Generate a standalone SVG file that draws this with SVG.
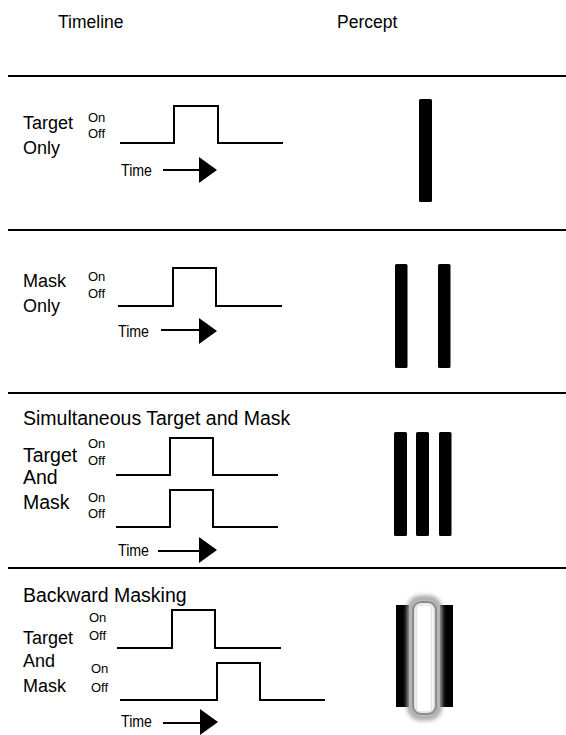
<svg xmlns="http://www.w3.org/2000/svg" width="566" height="735" viewBox="0 0 566 735">
<style>
  text { font-family: "Liberation Sans", Arial, sans-serif; fill: #000; }
  .hd { font-size: 17.5px; }
  .lb { font-size: 18px; }
  .lb3 { font-size: 19.5px; }
  .oo { font-size: 13px; }
  .tm { font-size: 16px; }
  .sep { stroke: #000; stroke-width: 2.2; fill: none; }
  .wave { stroke: #000; stroke-width: 2; fill: none; }
  .axis { stroke: #000; stroke-width: 2; fill: none; }
  .bar { fill: #000; }
</style>
<defs>
  <path id="tri" d="M0,-13 L18,0 L0,13 Z" fill="#000"/>
  <filter id="glow" x="-50%" y="-20%" width="200%" height="140%">
    <feGaussianBlur stdDeviation="2.2"/>
  </filter>
</defs>
<rect width="566" height="735" fill="#fff"/>

<g id="header">
  <text class="hd" x="58" y="28">Timeline</text>
  <text class="hd" x="337" y="28">Percept</text>
</g>

<g id="separators">
  <line class="sep" x1="8" y1="76" x2="566" y2="76"/>
  <line class="sep" x1="8" y1="230" x2="566" y2="230"/>
  <line class="sep" x1="8" y1="393" x2="566" y2="393"/>
  <line class="sep" x1="8" y1="568" x2="566" y2="568"/>
</g>

<g id="row-target-only">
  <text class="lb" x="23" y="129">Target</text>
  <text class="lb" x="23" y="154">Only</text>
  <text class="oo" x="88" y="122">On</text>
  <text class="oo" x="88" y="138">Off</text>
  <path class="wave" d="M120 143 H174 V106 H218 V143 H283"/>
  <text class="tm" x="121" y="176" textLength="31" lengthAdjust="spacingAndGlyphs">Time</text>
  <line class="axis" x1="163" y1="170" x2="200" y2="170"/>
  <use href="#tri" x="199" y="170"/>
  <rect class="bar" x="419" y="99" width="13" height="103" rx="1.5"/>
</g>

<g id="row-mask-only">
  <text class="lb" x="23" y="287">Mask</text>
  <text class="lb" x="23" y="312">Only</text>
  <text class="oo" x="88" y="281">On</text>
  <text class="oo" x="88" y="298">Off</text>
  <path class="wave" d="M118 306 H173 V268 H216 V306 H282"/>
  <text class="tm" x="118" y="337" textLength="31" lengthAdjust="spacingAndGlyphs">Time</text>
  <line class="axis" x1="161" y1="330" x2="200" y2="330"/>
  <use href="#tri" x="199" y="331"/>
  <rect class="bar" x="395" y="264" width="12.5" height="104" rx="1.5"/>
  <rect class="bar" x="438" y="264" width="12.5" height="104" rx="1.5"/>
</g>

<g id="row-simultaneous">
  <text class="lb3" x="23" y="425">Simultaneous Target and Mask</text>
  <text class="lb3" x="23" y="462">Target</text>
  <text class="lb3" x="23" y="484">And</text>
  <text class="lb3" x="23" y="509">Mask</text>
  <text class="oo" x="88" y="448">On</text>
  <text class="oo" x="88" y="465">Off</text>
  <text class="oo" x="88" y="502">On</text>
  <text class="oo" x="88" y="518">Off</text>
  <path class="wave" d="M116 475 H170 V438 H213 V475 H278"/>
  <path class="wave" d="M116 527 H170 V490 H213 V527 H278"/>
  <text class="tm" x="118" y="556" textLength="31" lengthAdjust="spacingAndGlyphs">Time</text>
  <line class="axis" x1="158" y1="551" x2="200" y2="551"/>
  <use href="#tri" x="199" y="550"/>
  <rect class="bar" x="394" y="432" width="13" height="104" rx="1.5"/>
  <rect class="bar" x="416" y="432" width="13" height="104" rx="1.5"/>
  <rect class="bar" x="439" y="432" width="12.5" height="104" rx="1.5"/>
</g>

<g id="row-backward">
  <text class="lb3" x="23" y="602">Backward Masking</text>
  <text class="oo" x="89" y="622">On</text>
  <text class="oo" x="89" y="640">Off</text>
  <text class="lb" x="23" y="644">Target</text>
  <text class="lb" x="23" y="667">And</text>
  <text class="lb" x="23" y="692">Mask</text>
  <text class="oo" x="91" y="673">On</text>
  <text class="oo" x="91" y="692">Off</text>
  <path class="wave" d="M117 648 H172 V610 H215 V648 H281"/>
  <path class="wave" d="M120 700 H217 V663 H260 V700 H325"/>
  <text class="tm" x="121" y="727" textLength="31" lengthAdjust="spacingAndGlyphs">Time</text>
  <line class="axis" x1="163" y1="723" x2="201" y2="723"/>
  <use href="#tri" x="200" y="722"/>
  <rect class="bar" x="396" y="605" width="13" height="102"/>
  <rect class="bar" x="440" y="605" width="13" height="102"/>
  <rect x="410.5" y="599" width="28" height="118" rx="10" fill="#fff" stroke="#a8a8a8" stroke-width="7" filter="url(#glow)"/>
  <rect x="413" y="602" width="23" height="112" rx="8" fill="none" stroke="#8c8c8c" stroke-width="2"/>
  <rect x="416" y="605" width="16" height="107" rx="3" fill="#e6e6e6"/>
  <rect x="417.5" y="606" width="13" height="105" rx="2" fill="#fff"/>
</g>
</svg>
